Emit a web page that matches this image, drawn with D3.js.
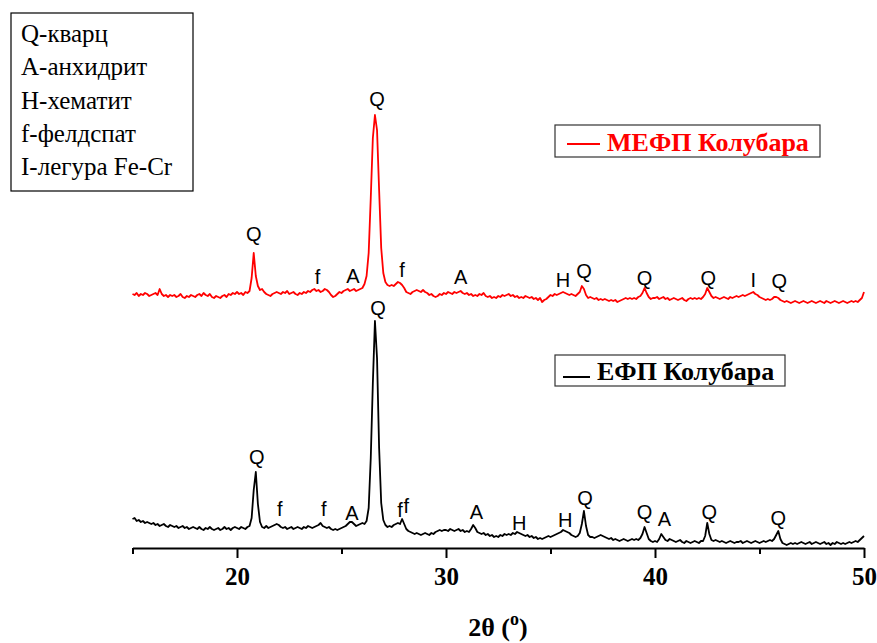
<!DOCTYPE html>
<html><head><meta charset="utf-8">
<script src="https://cdn.jsdelivr.net/npm/d3@7"></script>
<style>body{margin:0;background:#fff}svg{display:block}</style>
</head><body>
<script>
// 2θ grid: 15.0 .. 50.0, step 0.1
const twoTheta = d3.range(351).map(i => +(15 + i * 0.1).toFixed(1));

// ЕФП Колубара (black) — intensity, arbitrary units
const efp = [
 29,30,27,28,26,27,25,26,25,24,
 25,23,24,22,23,24,22,21,23,22,
 21,22,20,21,22,20,21,19,20,21,
 20,19,21,19,18,20,19,21,19,18,
 19,20,18,19,21,19,20,18,20,21,
 20,19,21,20,19,21,22,30,58,76,
 44,26,21,20,22,20,21,22,23,24,
 23,21,20,21,19,20,21,19,20,21,
 20,19,21,20,22,21,20,21,22,23,
 25,22,21,20,21,19,18,19,18,19,
 20,21,22,24,26,26,24,22,23,24,
 25,24,27,40,90,165,227,190,100,45,
 28,23,21,22,21,23,24,25,24,29,
 24,19,17,16,15,14,15,14,13,14,
 15,14,13,15,14,16,17,18,17,18,
 18,17,19,18,17,18,19,17,18,16,
 17,16,19,23,20,16,15,14,15,13,
 14,12,13,11,12,11,13,12,14,13,
 14,13,15,14,16,15,14,13,12,13,
 11,12,10,11,9,10,9,10,11,12,
 11,12,13,14,15,16,18,17,16,15,
 13,12,11,12,15,24,37,22,13,11,
 11,10,11,12,13,12,11,10,9,10,
 8,9,8,7,8,9,8,7,8,9,
 8,9,8,10,14,21,15,9,7,6,
 7,6,9,14,11,8,7,9,8,7,
 6,7,8,6,5,7,6,5,6,7,
 6,5,7,7,12,25,14,8,7,8,
 7,6,7,6,5,6,7,6,5,6,
 6,7,5,6,7,6,5,6,7,6,
 5,6,7,6,7,8,7,9,13,17,
 9,5,4,3,4,5,4,5,4,5,
 6,5,4,5,6,4,5,6,5,4,
 5,6,4,5,3,5,4,6,5,4,
 5,4,5,6,5,6,7,6,8,10,
 12
];

// МЕФП Колубара (red) — offset pattern, arbitrary units
const mefp = [
 254,253,255,252,254,253,255,254,252,253,
 254,255,253,259,254,252,253,251,253,252,
 253,251,252,254,251,250,252,251,253,252,
 251,253,254,252,255,253,252,254,251,250,
 252,251,250,252,253,251,254,253,255,254,
 256,254,255,253,256,255,257,270,295,272,
 262,258,259,256,254,253,252,254,255,256,
 255,254,256,255,257,254,255,256,254,253,
 255,254,256,255,257,256,258,259,257,258,
 256,257,259,258,256,253,251,252,254,256,
 255,257,258,259,257,258,259,257,258,259,
 260,264,272,295,350,410,433,418,358,300,
 275,266,263,262,263,262,264,266,265,263,
 260,256,255,254,256,257,258,257,256,258,
 256,255,253,254,252,251,252,254,253,255,
 254,256,255,254,256,255,256,257,255,254,
 255,253,254,252,253,252,254,253,255,252,
 251,252,250,251,250,252,251,253,252,253,
 254,252,253,251,252,250,251,250,252,251,
 250,251,249,250,248,250,246,248,249,251,
 253,252,254,253,254,255,256,255,254,253,
 254,253,252,254,256,262,259,253,250,251,
 250,249,250,248,249,248,249,248,247,248,
 247,248,246,247,248,249,250,249,250,249,
 250,249,251,252,255,260,255,251,249,250,
 250,251,249,250,251,249,250,248,249,250,
 249,248,249,250,248,247,249,250,249,250,
 249,250,249,251,254,260,256,252,250,251,
 250,249,250,251,250,249,251,250,251,252,
 251,252,253,252,253,254,255,256,254,253,
 251,250,249,248,249,248,249,251,251,250,
 248,247,246,247,246,245,246,247,246,245,
 246,247,246,245,246,247,246,245,246,247,
 246,245,247,246,245,246,247,246,245,246,
 247,246,245,246,247,246,247,246,248,250,
 256
];

// Phase labels: [text, 2θ, label baseline level (same units as intensity)]
const redLabels = [
 ["Q",20.8,307],["f",23.85,264],["A",25.55,265],["Q",26.7,442],["f",27.9,271],["A",30.7,264],
 ["H",35.6,261],["Q",36.6,270],["Q",39.5,263],["Q",42.55,263],["I",44.7,261],["Q",45.95,260]
];
const blackLabels = [
 ["Q",20.95,84],["f",22.05,32],["f",24.15,32],["A",25.5,28],["Q",26.75,233],["f",27.8,31],["f",28.1,35],["A",31.45,29],
 ["H",33.5,18],["H",35.7,21],["Q",36.65,43],["Q",39.5,29],["A",40.45,22],["Q",42.6,29],["Q",45.9,23]
];

const legendPhases = ["Q-кварц","A-анхидрит","H-хематит","f-фелдспат","I-легура Fe-Cr"];
const xTicks = [15,20,25,30,35,40,45,50];

const W = 877, H = 643;
const svg = d3.select("body").append("svg").attr("width", W).attr("height", H);

const x = d3.scaleLinear().domain([15, 50]).range([132.5, 864]);
const y = d3.scaleLinear().domain([0, 460]).range([548, 88]);

const line = d3.line().x((d, i) => x(twoTheta[i])).y(d => y(d));

svg.append("path").datum(mefp).attr("d", line)
  .attr("fill", "none").attr("stroke", "#ff0000").attr("stroke-width", 1.8).attr("stroke-linejoin", "round");
svg.append("path").datum(efp).attr("d", line)
  .attr("fill", "none").attr("stroke", "#000").attr("stroke-width", 1.8).attr("stroke-linejoin", "round");

// peak labels
const lblFont = "Liberation Sans, Arial, sans-serif";
svg.append("g").selectAll("text").data(redLabels.concat(blackLabels)).join("text")
  .attr("x", d => x(d[1])).attr("y", d => y(d[2]))
  .attr("text-anchor", "middle").attr("font-family", lblFont).attr("font-size", 20)
  .attr("fill", "#000").text(d => d[0]);

// x axis
const serif = "Liberation Serif, Times New Roman, serif";
const axis = d3.axisBottom(x).tickValues(xTicks).tickSize(10).tickSizeOuter(0)
  .tickFormat(d => d % 10 === 0 ? d : "");
const gx = svg.append("g").attr("transform", "translate(0,548)").call(axis);
gx.select(".domain").attr("stroke", "#000").attr("stroke-width", 2);
gx.selectAll(".tick line").attr("stroke", "#000").attr("stroke-width", 2)
  .attr("y2", d => d % 10 === 0 ? 10 : 6);
gx.selectAll(".tick text").attr("font-family", serif)
  .attr("font-weight", "bold").attr("font-size", 25).attr("fill", "#000")
  .attr("y", 20).attr("dy", "0.68em");

// axis title
const title = svg.append("text").attr("x", 498).attr("y", 636).attr("text-anchor", "middle")
  .attr("font-family", serif).attr("font-weight", "bold")
  .attr("font-size", 26).attr("fill", "#000");
title.append("tspan").text("2θ (");
title.append("tspan").attr("dy", -11).attr("font-size", 18).text("o");
title.append("tspan").attr("dy", 11).text(")");

// phase legend box
svg.append("rect").attr("x", 11).attr("y", 13).attr("width", 182).attr("height", 178)
  .attr("fill", "#fff").attr("stroke", "#000").attr("stroke-width", 1.2);
svg.append("g").selectAll("text").data(legendPhases).join("text")
  .attr("x", 21).attr("y", (d, i) => 42 + i * 33.3)
  .attr("font-family", serif).attr("font-size", 25)
  .attr("fill", "#000").text(d => d);

// series legends
function seriesLegend(bx, by, bw, bh, color, label, lx1, lx2, ly, tx, ty) {
  svg.append("rect").attr("x", bx).attr("y", by).attr("width", bw).attr("height", bh)
    .attr("fill", "#fff").attr("stroke", "#333").attr("stroke-width", 1.2);
  svg.append("line").attr("x1", lx1).attr("x2", lx2).attr("y1", ly).attr("y2", ly)
    .attr("stroke", color).attr("stroke-width", 2);
  svg.append("text").attr("x", tx).attr("y", ty)
    .attr("font-family", serif).attr("font-weight", "bold")
    .attr("font-size", 26).attr("fill", color).text(label);
}
seriesLegend(555, 125, 265, 32, "#ff0000", "МЕФП Колубара", 567, 600, 144, 607, 151);
seriesLegend(555, 355, 230, 31, "#000", "ЕФП Колубара", 563, 590, 377, 597, 380);
</script>
</body></html>
